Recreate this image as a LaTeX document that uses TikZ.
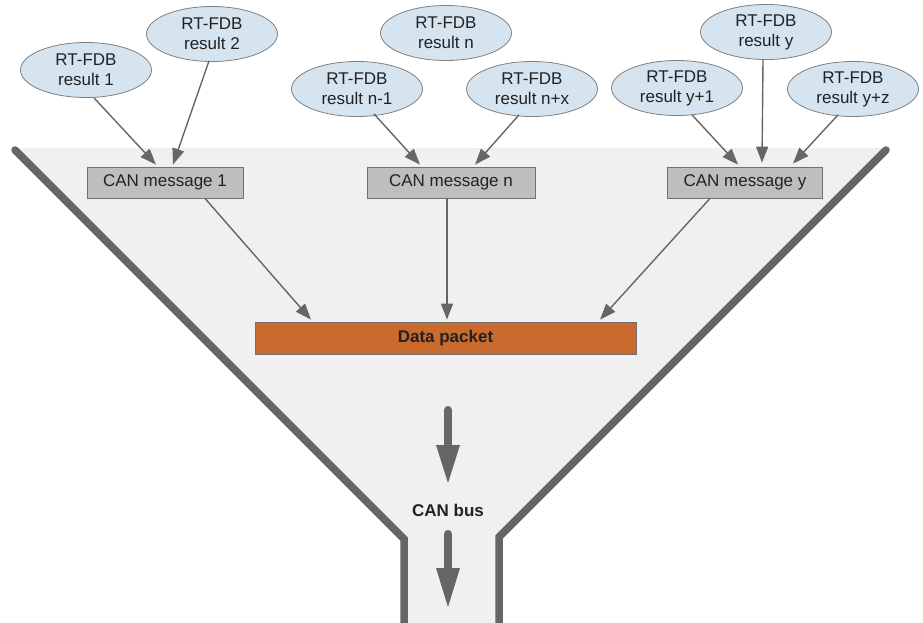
\documentclass[tikz,border=0pt]{standalone}
\usepackage{fontspec}
\setmainfont{Liberation Sans}
\usetikzlibrary{arrows.meta,calc,shapes.geometric}
\definecolor{funnelfill}{HTML}{F0F0F0}
\definecolor{wallgray}{HTML}{666666}
\definecolor{ellfill}{HTML}{D6E4F0}
\definecolor{ellline}{HTML}{808080}
\definecolor{boxfill}{HTML}{BEBEBE}
\definecolor{boxline}{HTML}{707070}
\definecolor{packetfill}{HTML}{C96A2F}
\definecolor{txt}{HTML}{222222}
\tikzset{
  result/.style={ellipse,draw=ellline,fill=ellfill,line width=0.8pt,minimum width=131pt,minimum height=55pt,inner sep=0pt,align=center,text=txt,font=\fontsize{17}{20}\selectfont},
  canbox/.style={rectangle,draw=boxline,fill=boxfill,line width=0.8pt,minimum height=31pt,inner sep=0pt,text=txt,font=\fontsize{17}{20}\selectfont},
  packet/.style={rectangle,draw=boxline,fill=packetfill,line width=0.8pt,minimum width=381pt,minimum height=32pt,inner sep=0pt,text=txt,font=\fontsize{17}{20}\selectfont\bfseries},
  conn/.style={draw=wallgray,line width=1.4pt,-{Triangle[length=16pt,width=12pt]}},
  wall/.style={draw=wallgray,line width=7.5pt,line cap=round,line join=miter},
}
\begin{document}
\begin{tikzpicture}[x=1pt,y=-1pt]
\useasboundingbox (0,0) rectangle (923,622);
% funnel
\fill[funnelfill] (15,148) -- (886,148) -- (499,535) -- (499,640) -- (404,640) -- (404,537) -- cycle;
\draw[wall] (15,150) -- (404,539) -- (404,640);
\draw[wall] (886,150) -- (499,537) -- (499,640);
% big arrows
\draw[wallgray,line width=8pt,line cap=round] (448,410) -- (448,450);
\fill[wallgray] (436,445) -- (460,445) -- (448,483) -- cycle;
\draw[wallgray,line width=8pt,line cap=round] (448,534) -- (448,572);
\fill[wallgray] (436,568) -- (460,568) -- (448,607) -- cycle;
\node[text=txt,font=\fontsize{17}{20}\selectfont\bfseries] (bus) at (448,510) {CAN bus};
% results
\node[result] (e1) at (86,70) {RT-FDB\\result 1};
\node[result] (e2) at (212,34) {RT-FDB\\result 2};
\node[result] (en) at (446,33) {RT-FDB\\result n};
\node[result] (enm) at (357,89) {RT-FDB\\result n-1};
\node[result] (enx) at (532,89) {RT-FDB\\result n+x};
\node[result] (ey) at (766,32) {RT-FDB\\result y};
\node[result] (ey1) at (677,88) {RT-FDB\\result y+1};
\node[result] (eyz) at (853,89) {RT-FDB\\result y+z};
% messages
\node[canbox,minimum width=156pt] (m1) at (165,182.5) {CAN message 1};
\node[canbox,minimum width=168pt] (mn) at (451,182.5) {CAN message n};
\node[canbox,minimum width=155pt] (my) at (745,182.5) {CAN message y};
% packet
\node[packet] (dp) at (445.5,338) {Data packet};
% connectors
\draw[conn] ($(e1.south)+(8,0)$) -- ($(m1.north)+(-9,-2)$);
\draw[conn] ($(e2.south)+(-3,-1)$) -- ($(m1.north)+(8,-2)$);
\draw[conn] ($(enm.south)+(17,-3)$) -- ($(mn.north)+(-31,-2)$);
\draw[conn] ($(enx.south)+(-13,-2)$) -- ($(mn.north)+(24,-2)$);
\draw[conn] ($(ey1.south)+(15,-1)$) -- ($(my.north)+(-7,-2)$);
\draw[conn] ($(ey.south)+(-3,0)$) -- ($(my.north)+(17,-4)$);
\draw[conn] ($(eyz.south)+(-15,-2)$) -- ($(my.north)+(48,-3)$);
\draw[conn] ($(m1.south)+(40,0)$) -- ($(dp.north)+(-134.5,-2)$);
\draw[conn] ($(mn.south)+(-4,0)$) -- ($(dp.north)+(1.5,-2)$);
\draw[conn] ($(my.south)+(-35,0)$) -- ($(dp.north)+(154.5,-2)$);
\end{tikzpicture}
\end{document}
